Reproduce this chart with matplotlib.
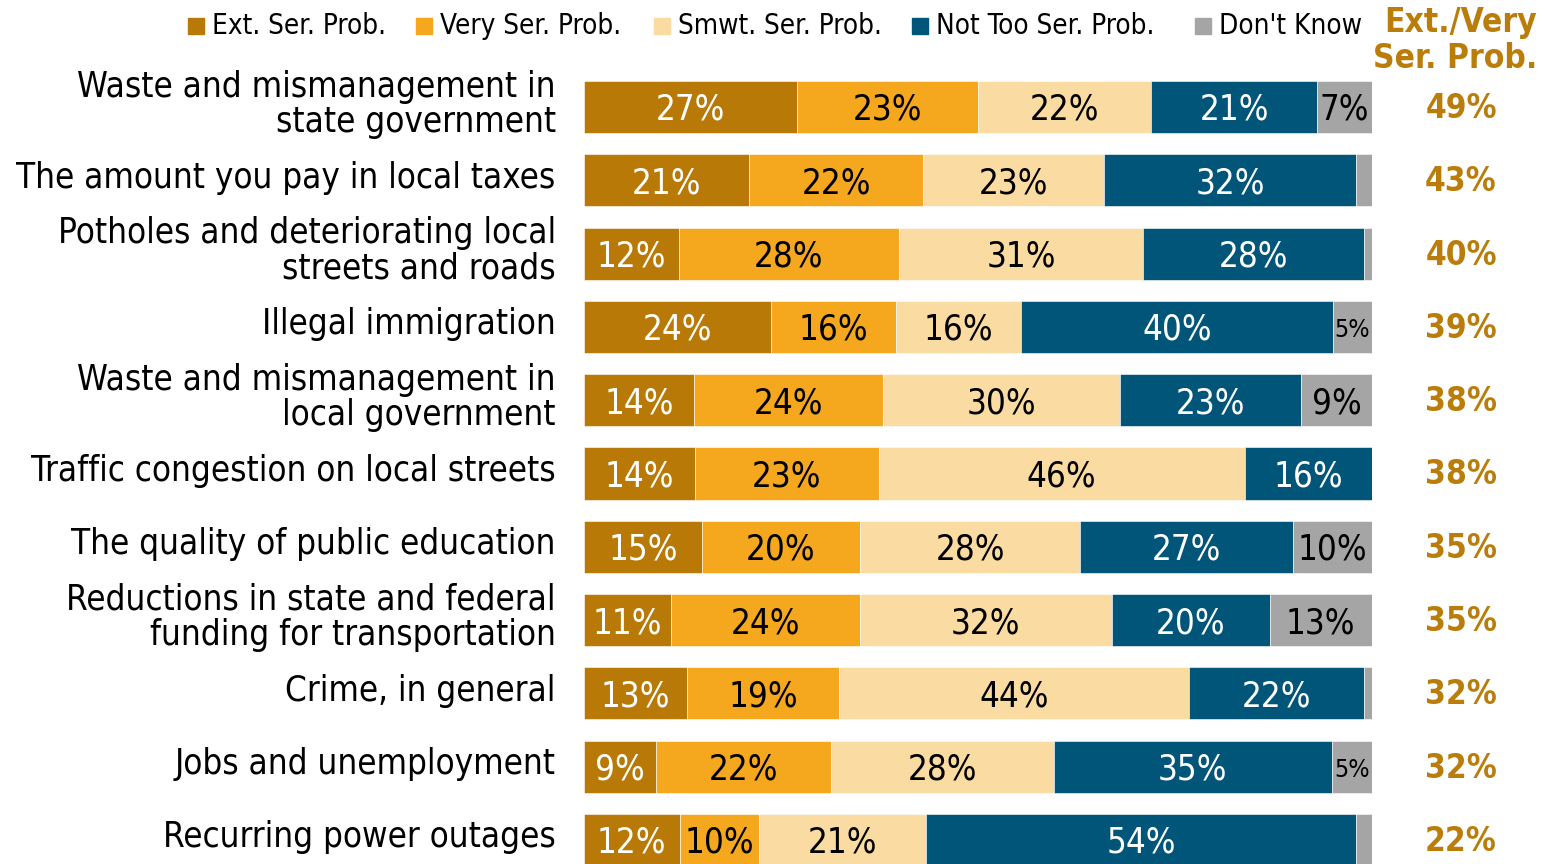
import matplotlib.pyplot as plt
import numpy as np

categories = [
    "Waste and mismanagement in\nstate government",
    "The amount you pay in local taxes",
    "Potholes and deteriorating local\nstreets and roads",
    "Illegal immigration",
    "Waste and mismanagement in\nlocal government",
    "Traffic congestion on local streets",
    "The quality of public education",
    "Reductions in state and federal\nfunding for transportation",
    "Crime, in general",
    "Jobs and unemployment",
    "Recurring power outages",
]
series_names = ["Ext. Ser. Prob.", "Very Ser. Prob.", "Smwt. Ser. Prob.",
                "Not Too Ser. Prob.", "Don't Know"]
ext = [27, 21, 12, 24, 14, 14, 15, 11, 13, 9, 12]
very = [23, 22, 28, 16, 24, 23, 20, 24, 19, 22, 10]
smwt = [22, 23, 31, 16, 30, 46, 28, 32, 44, 28, 21]
not_too = [21, 32, 28, 40, 23, 16, 27, 20, 22, 35, 54]
dont_know = [7, 2, 1, 5, 9, 0, 10, 13, 1, 5, 2]
ext_very = [49, 43, 40, 39, 38, 38, 35, 35, 32, 32, 22]

colors = ["#B87906", "#F5A71E", "#FADBA2", "#005578", "#A5A5A5"]
text_colors = ["white", "black", "black", "white", "black"]
gold = "#BB7D0A"

plt.rcParams["font.family"] = ["DejaVu Sans"]
plt.rcParams["font.stretch"] = "condensed"

W, H = 1545, 864
fig = plt.figure(figsize=(W / 100, H / 100), dpi=100)
row_px = 73.3
top_px = 107 - row_px / 2
bot_px = 840 + row_px / 2
ax = fig.add_axes([584 / W, (H - bot_px) / H, 788 / W, (bot_px - top_px) / H])

data = np.array([ext, very, smwt, not_too, dont_know], dtype=float)
shares = data / data.sum(axis=0) * 100
y = np.arange(len(categories))
left = np.zeros(len(categories))
for k in range(len(series_names)):
    ax.barh(y, shares[k], left=left, height=0.71, color=colors[k],
            edgecolor="white", linewidth=0.4, label=series_names[k])
    for i in range(len(categories)):
        v = data[k, i]
        if v >= 5:
            size = 18 if (k == 4 and v <= 5) else 25
            ax.text(left[i] + shares[k, i] / 2, y[i] + 0.04, f"{int(v)}%",
                    ha="center", va="center", fontsize=size, color=text_colors[k])
    left += shares[k]

ax.set_xlim(0, 100)
ax.set_ylim(len(categories) - 0.5, -0.5)
ax.axis("off")

for i, cat in enumerate(categories):
    ax.text(-3.6, y[i] - 0.035, cat, ha="right", va="center", fontsize=25,
            linespacing=1.05, clip_on=False)
    ax.text(111.3, y[i] + 0.02, f"{ext_very[i]}%", ha="center", va="center",
            fontsize=24, fontweight="bold", color=gold, clip_on=False)

# legend drawn by hand along the top
legend_x = [188, 416, 654, 912, 1195]
for k, name in enumerate(series_names):
    fig.patches.append(plt.Rectangle((legend_x[k] / W, 1 - 34 / H), 16 / W, 16 / H,
                                     color=colors[k], transform=fig.transFigure))
    fig.text((legend_x[k] + 24) / W, 1 - 26 / H, name, ha="left", va="center",
             fontsize=20)

fig.text(1537 / W, 1 - 6 / H, "Ext./Very\nSer. Prob.", ha="right", va="top",
         fontsize=24, fontweight="bold", color=gold, linespacing=1.12)

fig.savefig("out.png", dpi=100)
